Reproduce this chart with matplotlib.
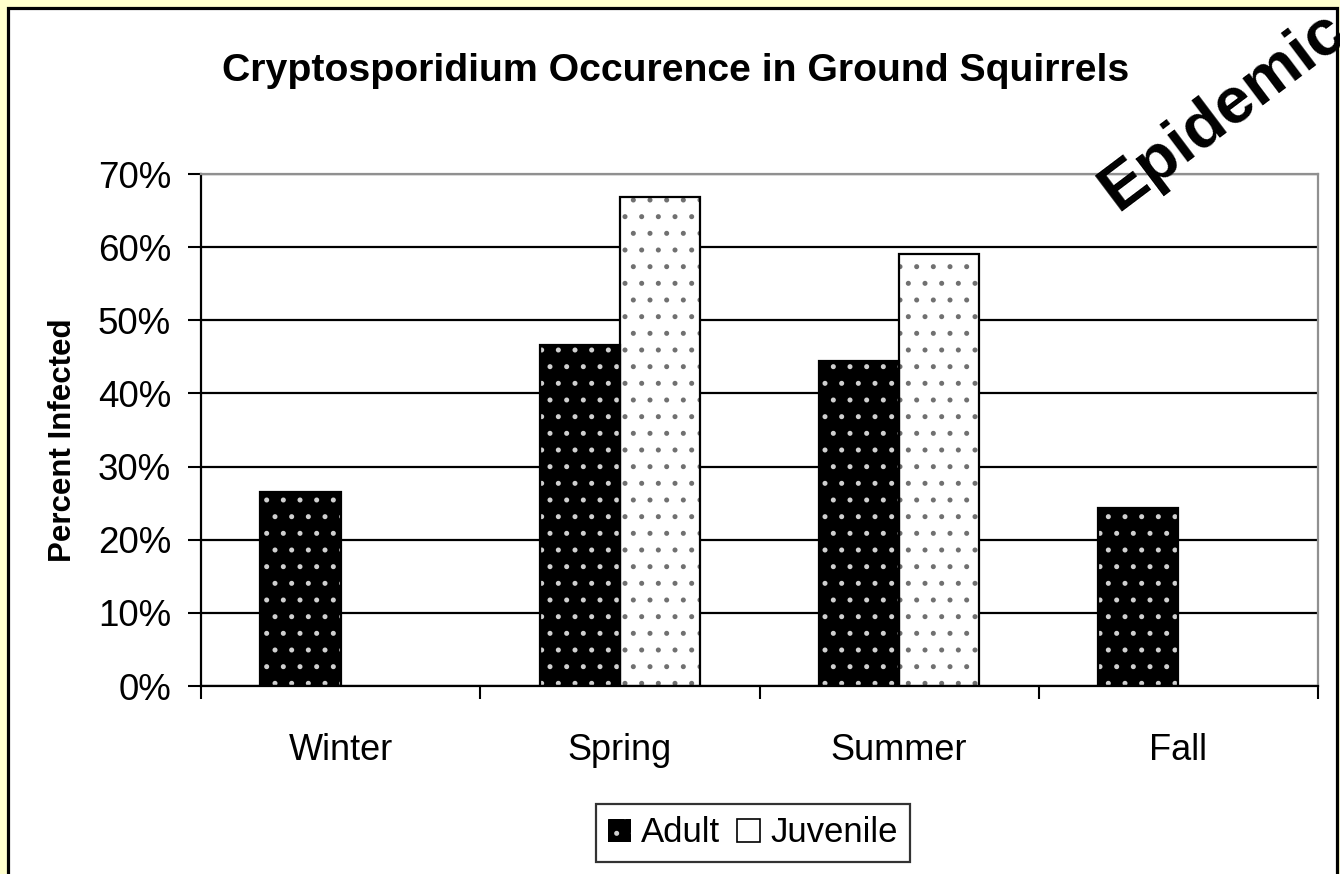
import numpy as np
import matplotlib
matplotlib.use("Agg")
import matplotlib.pyplot as plt
from matplotlib.patches import Rectangle, Patch
from matplotlib.ticker import FuncFormatter, FixedLocator

plt.rcParams['font.family'] = ['Liberation Sans', 'DejaVu Sans']
plt.rcParams['hatch.linewidth'] = 1.2

# ---- data ----
title = "Cryptosporidium Occurence in Ground Squirrels"
seasons = ["Winter", "Spring", "Summer", "Fall"]
adult = [26.5, 46.6, 44.4, 24.3]
juvenile = [np.nan, 66.9, 59.1, np.nan]
series_names = ["Adult", "Juvenile"]
y_ticks = [0, 10, 20, 30, 40, 50, 60, 70]
ylabel = "Percent Infected"
stamp = "Epidemic"

W, H = 1340, 874
fig = plt.figure(figsize=(W / 100, H / 100), dpi=100)
fig.patch.set_facecolor("#FFFFCC")

# outer white frame with black border
frame = Rectangle((7.5 / W, -0.05), (1336.5 - 7.5) / W, 1 - 7.5 / H + 0.05,
                  transform=fig.transFigure, facecolor="white",
                  edgecolor="black", linewidth=2.3, zorder=-10)
fig.patches.append(frame)

ax = fig.add_axes([201 / W, 1 - 686 / H, (1318 - 201) / W, (686 - 174) / H])
ax.set_facecolor("white")
ax.set_zorder(1)

x = np.arange(len(seasons))
bw = 0.287

def draw_series(xpos, vals, face, dotcolor):
    vals = np.asarray(vals, dtype=float)
    m = ~np.isnan(vals)
    ax.bar(xpos[m], vals[m], width=bw, align="edge", facecolor=face,
           edgecolor=dotcolor, hatch=".", linewidth=0, zorder=2)
    ax.bar(xpos[m], vals[m], width=bw, align="edge", fill=False,
           edgecolor="black", linewidth=1.6, zorder=3)

draw_series(x - bw, adult, "black", "#d0d0d0")
draw_series(x, juvenile, "white", "#707070")

ax.set_xlim(-0.5, len(seasons) - 0.5)
ax.set_ylim(0, 70)
ax.set_axisbelow(True)

ax.yaxis.set_major_locator(FixedLocator(y_ticks))
ax.yaxis.set_major_formatter(FuncFormatter(lambda v, p: f"{v:.0f}%"))
ax.yaxis.grid(True, color="black", linewidth=1.6)
ax.tick_params(axis="y", direction="out", length=9.5, width=1.5,
               labelsize=26.5, pad=12, colors="black")

ax.xaxis.set_major_locator(FixedLocator(np.arange(len(seasons) + 1) - 0.5))
ax.xaxis.set_major_formatter(FuncFormatter(lambda v, p: ""))
ax.xaxis.set_minor_locator(FixedLocator(x))
ax.set_xticklabels(seasons, minor=True)
ax.tick_params(axis="x", which="major", direction="out", length=9.5, width=1.5)
ax.tick_params(axis="x", which="minor", length=0, labelsize=26, pad=34)

for s in ["top", "right"]:
    ax.spines[s].set_color("#909090")
    ax.spines[s].set_linewidth(1.6)
for s in ["left", "bottom"]:
    ax.spines[s].set_color("black")
    ax.spines[s].set_linewidth(1.6)

fig.text(63 / W, 1 - 440 / H, ylabel, rotation=90, ha="center", va="center",
         fontsize=22.5, fontweight="bold")

fig.text(676 / W, 1 - 81 / H, title, ha="center", va="baseline",
         fontsize=28.3, fontweight="bold")

# legend
h_adult = Patch(facecolor="black", edgecolor="#d0d0d0", hatch=".", linewidth=0)
h_juv = Patch(facecolor="white", edgecolor="black", linewidth=1.2)
leg = fig.legend([h_adult, h_juv], series_names, loc="center",
                 bbox_to_anchor=(753 / W, 1 - 833 / H), ncol=2, fontsize=25,
                 frameon=True, fancybox=False, handlelength=0.65,
                 handleheight=0.65, handletextpad=0.3, columnspacing=0.5,
                 borderpad=0.35, borderaxespad=0)
leg.get_frame().set_edgecolor("black")
leg.get_frame().set_linewidth(1.6)

fig.text(1118 / W, 1 - 212 / H, stamp, rotation=37, rotation_mode="anchor",
         ha="left", va="baseline", fontsize=47, fontweight="bold", zorder=10)

fig.savefig("out.png", dpi=100, facecolor=fig.get_facecolor())
